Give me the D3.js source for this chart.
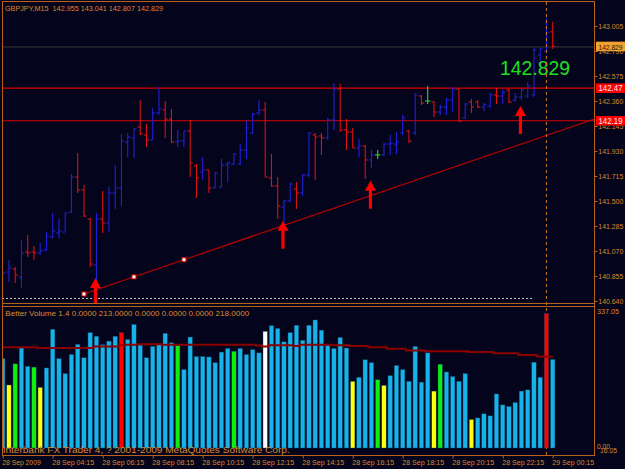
<!DOCTYPE html>
<html>
<head>
<meta charset="utf-8">
<script src="https://cdn.jsdelivr.net/npm/d3@7"></script>
<style>
  html, body { margin: 0; padding: 0; background: #04041c; }
  svg { display: block; }
  text { font-family: "Liberation Sans", Arial, sans-serif; }
</style>
</head>
<body>
<svg id="chart" width="625" height="469"></svg>
<script>
// ---- data ----
const symbolName = 'GBPJPY,M15';

// [open, high, low, close] per 15 min bar
const ohlc = [
  [140.855,140.907,140.674,140.881],[140.889,140.993,140.803,140.924],[140.915,140.932,140.795,140.864],
  [140.846,141.165,140.752,141.053],[141.061,141.208,141.018,141.053],[141.061,141.113,140.993,141.053],
  [141.053,141.139,141.036,141.070],[141.079,141.233,141.070,141.199],[141.190,141.397,141.182,141.242],
  [141.225,141.345,141.182,141.242],[141.233,141.397,141.233,141.397],[141.405,141.732,141.397,141.706],
  [141.706,141.913,141.569,141.595],[141.595,141.638,141.362,141.371],[141.345,141.354,140.932,140.958],
  [140.950,141.397,140.821,141.345],[141.345,141.586,141.225,141.311],[141.311,141.620,141.233,141.569],
  [141.569,141.810,141.431,141.612],[141.612,142.076,141.457,142.016],[142.007,142.085,141.878,142.050],
  [142.042,142.128,141.870,142.119],[142.136,142.369,142.068,142.076],[142.068,142.162,141.964,142.025],
  [142.025,142.300,142.025,142.257],[142.257,142.480,142.240,142.291],[142.283,142.360,142.042,142.205],
  [142.205,142.291,141.999,142.007],[142.007,142.111,141.964,142.016],[142.016,142.102,141.964,142.102],
  [142.102,142.197,141.706,141.827],[141.801,141.818,141.526,141.698],[141.749,141.878,141.681,141.767],
  [141.767,141.767,141.569,141.612],[141.612,141.749,141.612,141.741],[141.620,141.861,141.620,141.810],
  [141.810,141.835,141.663,141.827],[141.818,141.913,141.810,141.904],[141.818,141.990,141.810,141.939],
  [141.939,142.188,141.861,142.128],[142.085,142.257,142.076,142.248],[142.257,142.369,142.240,142.283],
  [142.283,142.351,141.706,141.706],[141.698,141.904,141.620,141.629],[141.629,141.706,141.345,141.457],
  [141.448,141.509,141.225,141.500],[141.500,141.655,141.491,141.646],[141.603,141.663,141.431,141.569],
  [141.569,141.732,141.543,141.724],[141.724,142.093,141.706,142.085],[142.068,142.085,141.681,142.050],
  [142.059,142.085,141.896,142.042],[142.042,142.214,142.025,142.197],[142.197,142.515,142.111,142.463],
  [142.463,142.506,142.093,142.111],[142.111,142.205,141.939,142.093],[142.093,142.128,141.956,141.956],
  [141.956,142.033,141.878,141.973],[141.973,141.982,141.689,141.853],[141.853,141.939,141.784,141.896],
  [141.896,141.939,141.861,141.896],[141.896,141.999,141.887,141.990],[141.990,142.068,141.896,141.999],
  [141.990,142.093,141.904,142.007],[142.085,142.240,142.068,142.214],[142.102,142.111,141.999,142.016],
  [142.085,142.429,142.068,142.412],[142.403,142.412,142.326,142.343],[142.360,142.489,142.334,142.360],
  [142.351,142.360,142.222,142.265],[142.265,142.326,142.240,142.308],[142.308,142.386,142.240,142.369],
  [142.369,142.480,142.265,142.463],[142.463,142.463,142.179,142.188],[142.214,142.343,142.205,142.334],
  [142.351,142.377,142.257,142.308],[142.351,142.369,142.300,142.308],[142.308,142.343,142.274,142.326],
  [142.317,142.429,142.300,142.412],[142.412,142.472,142.334,142.403],[142.403,142.455,142.334,142.437],
  [142.455,142.463,142.343,142.351],[142.369,142.429,142.351,142.394],[142.394,142.472,142.369,142.455],
  [142.403,142.523,142.386,142.489],[142.412,142.816,142.394,142.799],[142.756,142.816,142.627,142.807],
  [142.790,143.074,142.781,142.945],[142.955,143.041,142.807,142.829]
];

const volumes = [
  220,155,207,246,201,199,149,197,292,220,
  183,230,255,222,284,275,254,263,275,284,
  267,304,253,222,250,255,282,259,253,193,
  273,225,225,224,210,236,245,238,245,230,
  242,234,287,301,294,261,284,302,265,302,
  315,290,253,245,272,246,164,174,217,210,
  168,154,178,203,193,164,250,162,234,140,
  206,187,176,164,183,70,74,84,79,133,
  106,102,112,140,143,211,174,331,218
];

const volumeMA = [
  248,248,248,248,248,248,246,246,246,246,246,246,246,246,246,250,250,250,250,
  253,254,254,255,255,255,255,254,254,254,254,254,254,254,254,254,254,254,254,254,254,254,252,
  250,253,253,253,253,251,254,254,254,254,254,253,253,253,251,251,251,248,248,248,
  244,244,244,240,240,240,238,238,238,238,238,238,238,236,236,236,236,233,233,233,233,
  229,229,229,225,225,225
];

const lowVolumeBars = [1, 6, 56, 61, 69, 75];     // yellow
const churnBars = [2, 5, 28, 37, 60, 70];         // green
const climaxBars = [19, 87];                      // red
const climaxLowBars = [42];                       // white
const volumeBuffers = ['1.4', '0.0000', '213.0000', '0.0000', '0.0000', '0.0000', '218.0000'];

const priceTicks = [143.005, 142.790, 142.575, 142.360, 142.145, 141.930, 141.715,
                    141.500, 141.285, 141.070, 140.855, 140.640];
const timeTickBars = [0, 8, 16, 24, 32, 40, 48, 56, 64, 72, 80, 88];
const timeLabels = ['28 Sep 2009', '28 Sep 04:15', '28 Sep 06:15', '28 Sep 08:15', '28 Sep 10:15',
                    '28 Sep 12:15', '28 Sep 14:15', '28 Sep 16:15', '28 Sep 18:15', '28 Sep 20:15',
                    '28 Sep 22:15', '29 Sep 00:15'];

const levelPrices = [142.47, 142.19];
const trendPoints = [[13, 140.700], [29, 140.995]];
const dotLinePoints = [[0, 140.662], [85, 140.662]];
const signalBars = [15, 45, 59, 83];
const signalPrices = [140.838, 141.331, 141.675, 142.317];
const separatorBar = 87;
const volumeAxisLabels = ['337.05', '0.00', '16.05'];
const copyright = 'Interbank FX Trader 4, ? 2001-2009 MetaQuotes Software Corp.';

// ---- look ----
const BG = '#04041c', FG = '#dc8a2c', FRAME = '#b4621c';
const UP = '#2020d8', DOWN = '#dc1010', DOJI = '#20e020';
const fmt3 = d3.format('.3f');

const svg = d3.select('#chart');
svg.append('rect').attr('width', 625).attr('height', 469).attr('fill', BG);

const x = d3.scaleLinear().domain([0, 88]).range([2.7, 552.7]);
const y = d3.scaleLinear().domain([140.640, 143.005]).range([301, 26]);
const yv = d3.scaleLinear().domain([0, 337.05]).range([448, 311]);

const defs = svg.append('defs');
defs.append('clipPath').attr('id', 'mainClip')
  .append('rect').attr('x', 2).attr('y', 2).attr('width', 592).attr('height', 301);
defs.append('clipPath').attr('id', 'volClip')
  .append('rect').attr('x', 2).attr('y', 306).attr('width', 592).attr('height', 149);

// ---- main panel ----
const main = svg.append('g').attr('clip-path', 'url(#mainClip)');
const last = ohlc[ohlc.length - 1];

// bid line
main.append('line').attr('x1', 2).attr('x2', 594)
  .attr('y1', y(last[3]) + 0.5).attr('y2', y(last[3]) + 0.5)
  .attr('stroke', '#3a3630').attr('stroke-width', 1);

// horizontal levels
main.selectAll('.lvl').data(levelPrices).join('line').attr('class', 'lvl')
  .attr('x1', 2).attr('x2', 594)
  .attr('y1', d => y(d)).attr('y2', d => y(d))
  .attr('stroke', '#d80000').attr('stroke-width', 1.2);

// dotted line near the bottom
main.append('line')
  .attr('x1', 2).attr('x2', x(dotLinePoints[1][0]))
  .attr('y1', y(dotLinePoints[0][1])).attr('y2', y(dotLinePoints[1][1]))
  .attr('stroke', '#c8c8c8').attr('stroke-width', 1).attr('stroke-dasharray', '2,2');

// trend line (ray)
const slope = (trendPoints[1][1] - trendPoints[0][1]) / (trendPoints[1][0] - trendPoints[0][0]);
const rayEnd = x.invert(596);
main.append('line')
  .attr('x1', x(trendPoints[0][0])).attr('y1', y(trendPoints[0][1]))
  .attr('x2', x(rayEnd)).attr('y2', y(trendPoints[0][1] + slope * (rayEnd - trendPoints[0][0])))
  .attr('stroke', '#b80000').attr('stroke-width', 1.2);

// separator
svg.append('line')
  .attr('x1', x(separatorBar)).attr('x2', x(separatorBar)).attr('y1', 2).attr('y2', 455)
  .attr('stroke', '#d07a28').attr('stroke-width', 1).attr('stroke-dasharray', '3,3');

// OHLC bars
const barColor = d => d[3] > d[0] ? UP : (d[3] < d[0] ? DOWN : DOJI);
const bars = main.append('g').selectAll('g').data(ohlc).join('g')
  .attr('stroke', barColor).attr('stroke-width', 1.1);
bars.append('line')
  .attr('x1', (d, i) => x(i)).attr('x2', (d, i) => x(i))
  .attr('y1', d => y(d[1])).attr('y2', d => y(d[2]));
bars.append('line')
  .attr('x1', (d, i) => x(i) - 2.6).attr('x2', (d, i) => x(i))
  .attr('y1', d => y(d[0])).attr('y2', d => y(d[0]));
bars.append('line')
  .attr('x1', (d, i) => x(i)).attr('x2', (d, i) => x(i) + 2.6)
  .attr('y1', d => y(d[3])).attr('y2', d => y(d[3]));

// trend anchor squares
const mid = (trendPoints[0][0] + trendPoints[1][0]) / 2;
const anchors = [trendPoints[0], [mid, trendPoints[0][1] + slope * (mid - trendPoints[0][0])], trendPoints[1]];
main.selectAll('.anc').data(anchors).join('rect').attr('class', 'anc')
  .attr('x', d => x(d[0]) - 2).attr('y', d => y(d[1]) - 2)
  .attr('width', 4).attr('height', 4)
  .attr('fill', '#ffffff').attr('stroke', '#e00000').attr('stroke-width', 1);

// signal arrows
main.selectAll('.arrow').data(signalBars).join('path').attr('class', 'arrow')
  .attr('transform', (d, i) => `translate(${x(d) - 1},${y(signalPrices[i])})`)
  .attr('d', 'M0,0 L5.5,10 L1.6,10 L1.6,28 L-1.6,28 L-1.6,10 L-5.5,10 Z')
  .attr('fill', '#ff0000');

// big price label
main.append('text')
  .attr('x', 500).attr('y', 75)
  .attr('font-size', 21).attr('fill', '#1ee01e')
  .attr('textLength', 70).attr('lengthAdjust', 'spacingAndGlyphs')
  .text(fmt3(last[3]));

// header
svg.append('text')
  .attr('x', 5).attr('y', 10.5).attr('font-size', 8).attr('fill', FG)
  .attr('textLength', 158).attr('lengthAdjust', 'spacingAndGlyphs')
  .attr('xml:space', 'preserve')
  .text(`${symbolName}  ${last.map(fmt3).join(' ')}`);

// ---- volume panel ----
const vol = svg.append('g').attr('clip-path', 'url(#volClip)');
const volColor = i => climaxBars.includes(i) ? '#ff0000'
  : climaxLowBars.includes(i) ? '#ffffff'
  : churnBars.includes(i) ? '#10f010'
  : lowVolumeBars.includes(i) ? '#ffff10' : '#18b2ea';

vol.selectAll('.vb').data(volumes).join('rect').attr('class', 'vb')
  .attr('x', (d, i) => x(i) - 2.2).attr('width', 4.4)
  .attr('y', d => yv(d)).attr('height', d => yv(0) - yv(d))
  .attr('fill', (d, i) => volColor(i))
  .attr('stroke', '#0a4a66').attr('stroke-width', 0.4);

vol.append('path').datum(volumeMA)
  .attr('fill', 'none').attr('stroke', '#8a0000').attr('stroke-width', 2)
  .attr('d', d3.line().x((d, i) => x(i)).y(d => yv(d)).curve(d3.curveStep));

vol.append('text')
  .attr('x', 2.7).attr('y', 453.3).attr('font-size', 9.5).attr('fill', FG)
  .attr('textLength', 287).attr('lengthAdjust', 'spacingAndGlyphs')
  .text(copyright);

svg.append('text')
  .attr('x', 5.3).attr('y', 316).attr('font-size', 8).attr('fill', FG)
  .attr('textLength', 244).attr('lengthAdjust', 'spacingAndGlyphs')
  .text('Better Volume ' + volumeBuffers.join(' '));

// ---- frames ----
const frame = svg.append('g').attr('stroke', FRAME).attr('stroke-width', 1).attr('fill', 'none');
frame.append('line').attr('x1', 2).attr('x2', 594).attr('y1', 1.5).attr('y2', 1.5);
frame.append('line').attr('x1', 2.5).attr('x2', 2.5).attr('y1', 1).attr('y2', 456);
frame.append('line').attr('x1', 594.5).attr('x2', 594.5).attr('y1', 1).attr('y2', 456);
frame.append('line').attr('x1', 2).attr('x2', 595).attr('y1', 303.5).attr('y2', 303.5);
frame.append('line').attr('x1', 2).attr('x2', 595).attr('y1', 306.5).attr('y2', 306.5);
frame.append('line').attr('x1', 2).attr('x2', 595).attr('y1', 455.5).attr('y2', 455.5);

// ---- price axis ----
const pAxis = svg.append('g').attr('transform', 'translate(594.5,0)')
  .call(d3.axisRight(y).tickValues(priceTicks).tickSize(3).tickSizeOuter(0).tickFormat(fmt3));
pAxis.select('.domain').remove();
pAxis.selectAll('line').attr('stroke', FRAME);
pAxis.selectAll('text').attr('x', 3.8).attr('fill', FG).attr('font-size', 7.2)
  .attr('font-family', '"Liberation Sans", Arial, sans-serif')
  .attr('textLength', 25).attr('lengthAdjust', 'spacingAndGlyphs');

// price boxes
const boxes = [
  { price: last[3], label: fmt3(last[3]), fill: '#f2a232', color: '#2a1400' },
  { price: levelPrices[0], label: String(levelPrices[0]), fill: '#ff0000', color: '#ffecec' },
  { price: levelPrices[1], label: String(levelPrices[1]), fill: '#ff0000', color: '#ffecec' }
];
const bx = svg.append('g').selectAll('g').data(boxes).join('g');
bx.append('rect')
  .attr('x', 596).attr('width', 29)
  .attr('y', d => y(d.price) - 4.8).attr('height', 9.6)
  .attr('fill', d => d.fill);
bx.append('text')
  .attr('x', 598.5).attr('y', d => y(d.price) + 3.2)
  .attr('font-size', d => d.label.length > 6 ? 7.6 : 8.6).attr('fill', d => d.color)
  .attr('textLength', 24).attr('lengthAdjust', 'spacingAndGlyphs')
  .text(d => d.label);

// volume axis labels
svg.append('text').attr('x', 597).attr('y', 314).attr('font-size', 7.5).attr('fill', FG)
  .attr('textLength', 22).attr('lengthAdjust', 'spacingAndGlyphs').text(volumeAxisLabels[0]);
svg.append('text').attr('x', 597).attr('y', 449).attr('font-size', 7.5).attr('fill', FG)
  .attr('textLength', 13).attr('lengthAdjust', 'spacingAndGlyphs').text(volumeAxisLabels[1]);
svg.append('text').attr('x', 600).attr('y', 452.5).attr('font-size', 7.5).attr('fill', FG)
  .attr('textLength', 17).attr('lengthAdjust', 'spacingAndGlyphs').text(volumeAxisLabels[2]);

// ---- time axis ----
const tAxis = svg.append('g').attr('transform', 'translate(0,455.5)')
  .call(d3.axisBottom(x).tickValues(timeTickBars).tickSize(3).tickSizeOuter(0)
    .tickFormat((d, i) => timeLabels[i]));
tAxis.select('.domain').remove();
tAxis.selectAll('line').attr('stroke', FRAME);
tAxis.selectAll('text')
  .attr('text-anchor', 'start').attr('x', -1).attr('y', 4).attr('dy', '0.71em')
  .attr('fill', FG).attr('font-size', 8)
  .attr('font-family', '"Liberation Sans", Arial, sans-serif')
  .attr('textLength', (d, i) => timeLabels[i].length * 3.5)
  .attr('lengthAdjust', 'spacingAndGlyphs');
</script>
</body>
</html>
